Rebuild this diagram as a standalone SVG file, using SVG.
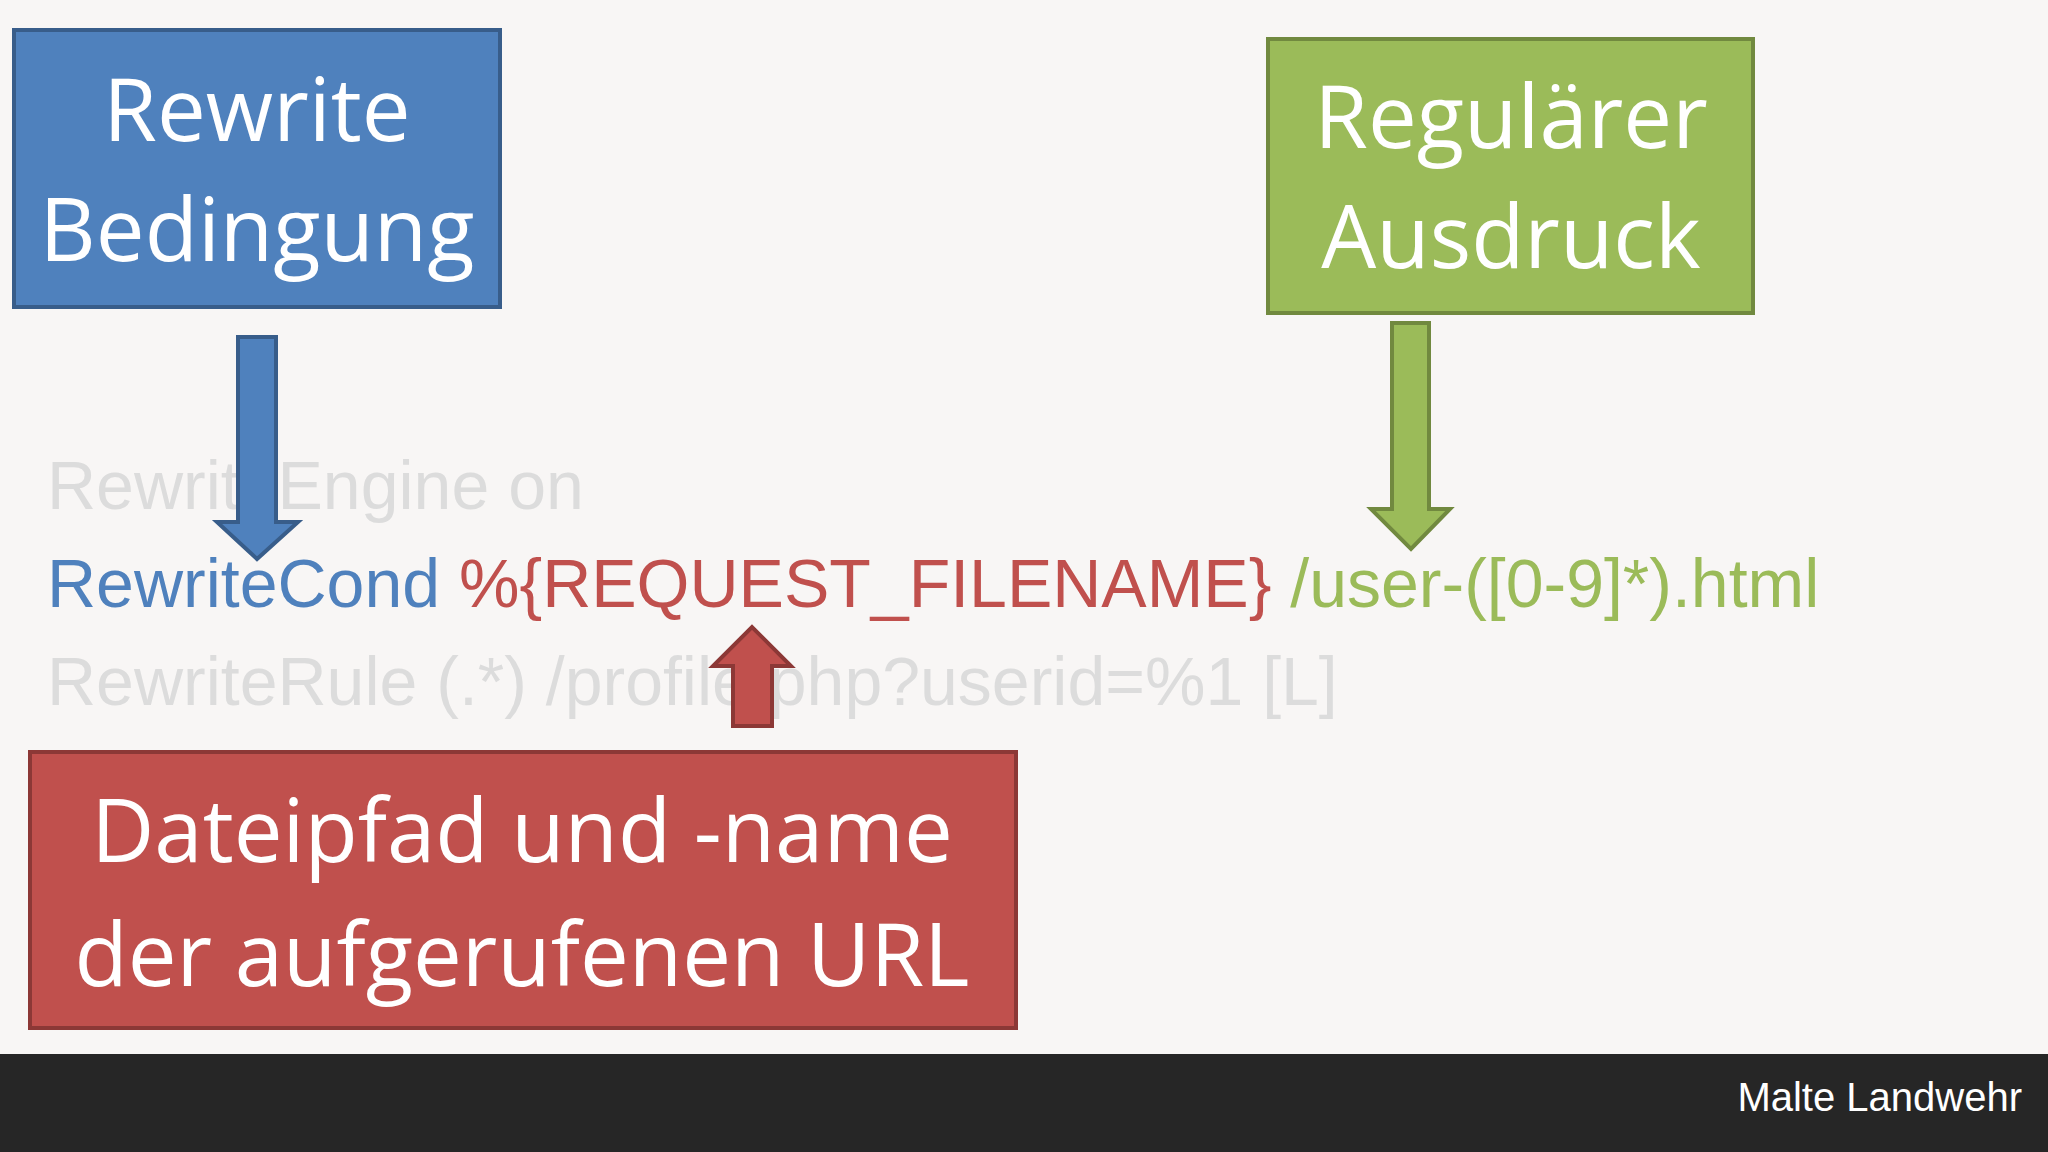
<svg xmlns="http://www.w3.org/2000/svg" width="2048" height="1152" viewBox="0 0 2048 1152">
<style>
.bt{font-family:"Open Sans","Noto Sans",sans-serif;font-size:87px;fill:#fff;text-anchor:middle}
.code{font-family:"Liberation Sans",Arial,sans-serif;font-size:68px}
</style>
<rect width="2048" height="1152" fill="#f8f6f5"/>
<g id="code">
<text class="code" x="47" y="509" fill="#dcdcdc">RewriteEngine on</text>
<text class="code" x="47" y="607"><tspan fill="#4f81bd">RewriteCond</tspan><tspan fill="#c0504d"> %{REQUEST_FILENAME}</tspan><tspan fill="#9bbb59"> /user-([0-9]*).html</tspan></text>
<text class="code" x="47" y="705" fill="#dcdcdc">RewriteRule (.*) /profile.php?userid=%1 [L]</text>
</g>
<g id="connectors" stroke-width="4">
<polygon points="238,337 276,337 276,522 298,522 257,559 217,522 238,522" fill="#4f81bd" stroke="#385d8a"/>
<polygon points="1392,323 1429,323 1429,509 1450,509 1411,549 1371,509 1392,509" fill="#9bbb59" stroke="#71893f"/>
<polygon points="733,726 772,726 772,666 791,666 752,627 713,666 733,666" fill="#c0504d" stroke="#8c3836"/>
</g>
<g id="blue">
<rect x="14" y="30" width="486" height="277" fill="#4f81bd" stroke="#385d8a" stroke-width="4"/>
<text class="bt" x="257" y="141">Rewrite</text>
<text class="bt" x="257" y="261">Bedingung</text>
</g>
<g id="green">
<rect x="1268" y="39" width="485" height="274" fill="#9bbb59" stroke="#71893f" stroke-width="4"/>
<text class="bt" x="1511" y="148">Regulärer</text>
<text class="bt" x="1511" y="268">Ausdruck</text>
</g>
<g id="red">
<rect x="30" y="752" width="986" height="276" fill="#c0504d" stroke="#8c3836" stroke-width="4"/>
<text class="bt" x="522" y="862">Dateipfad und -name</text>
<text class="bt" x="522" y="986">der aufgerufenen URL</text>
</g>
<rect y="1054" width="2048" height="98" fill="#262626"/>
<text x="2022" y="1111" font-family="Liberation Sans,Arial,sans-serif" font-size="40" fill="#fff" text-anchor="end">Malte Landwehr</text>
</svg>
